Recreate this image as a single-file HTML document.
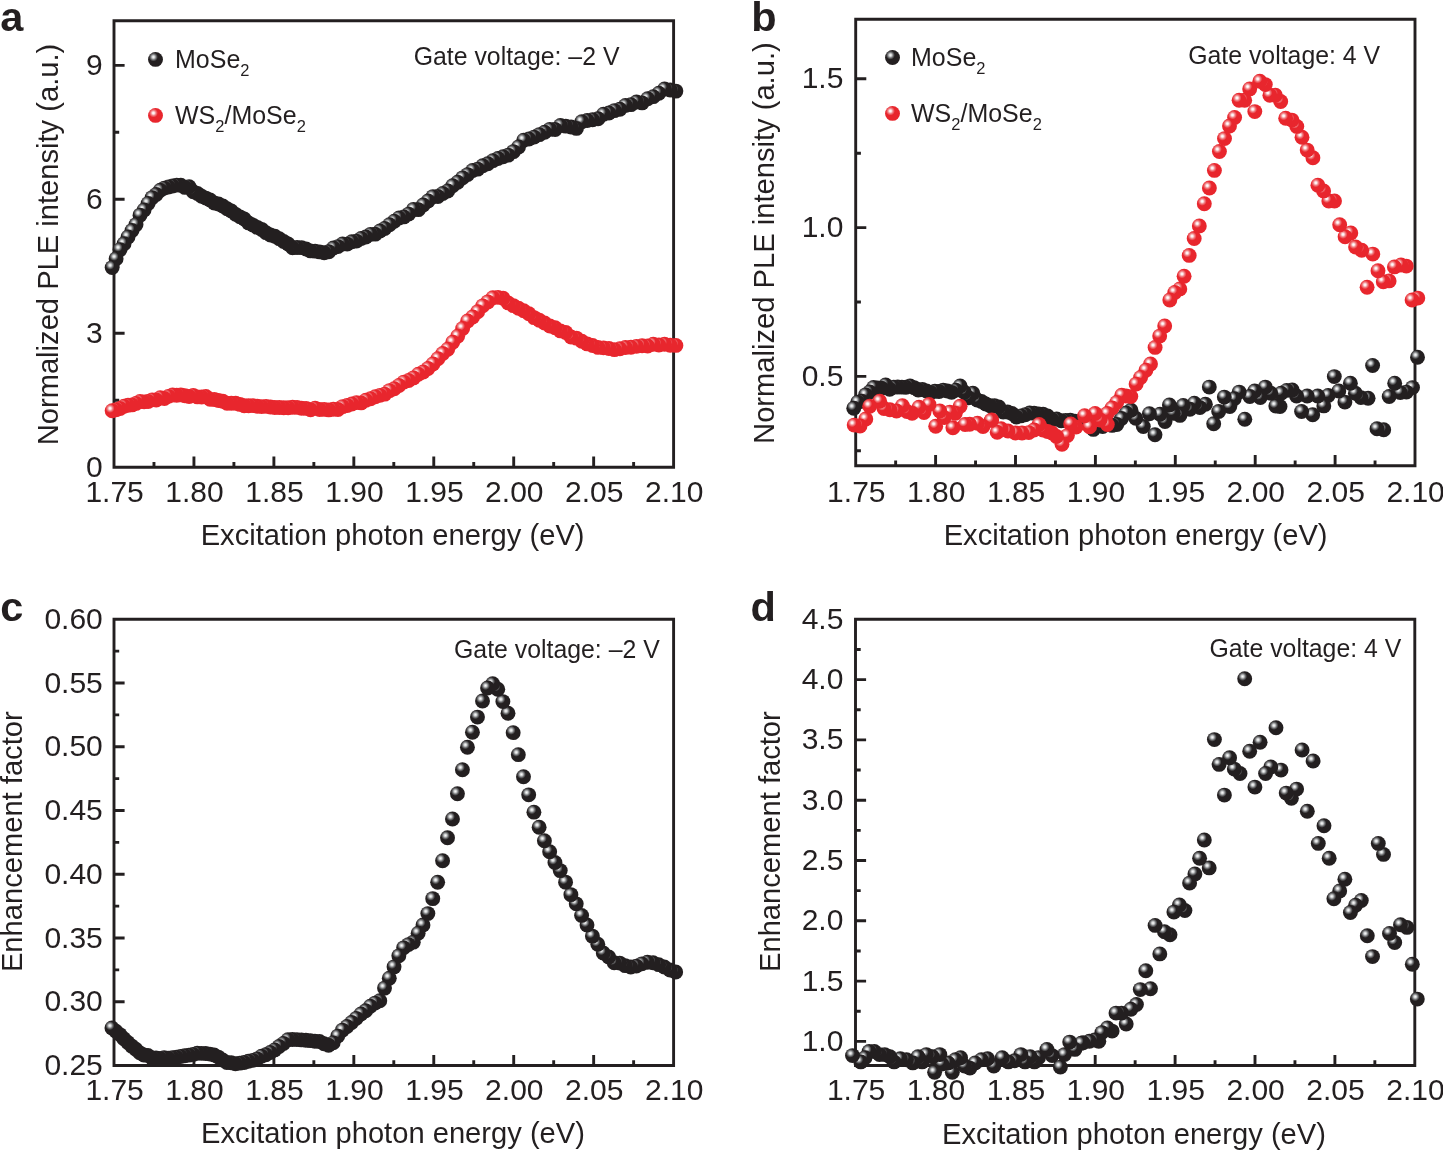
<!DOCTYPE html>
<html><head><meta charset="utf-8"><style>
html,body{margin:0;padding:0;background:#fff;overflow:hidden;}
svg{display:block;will-change:transform;}
text{font-family:"Liberation Sans", sans-serif;fill:#231f20;}
</style></head><body>
<svg width="1443" height="1150" viewBox="0 0 1443 1150">
<defs>
<radialGradient id="gk" cx="0.36" cy="0.34" r="0.30" fx="0.36" fy="0.34">
<stop offset="0" stop-color="#ffffff"/>
<stop offset="0.3" stop-color="#d0d2d3"/>
<stop offset="0.65" stop-color="#6d6e70"/>
<stop offset="1" stop-color="#231f20"/>
</radialGradient>
<radialGradient id="gr" cx="0.36" cy="0.34" r="0.30" fx="0.36" fy="0.34">
<stop offset="0" stop-color="#ffffff"/>
<stop offset="0.22" stop-color="#fdeeee"/>
<stop offset="0.6" stop-color="#f07c80"/>
<stop offset="1" stop-color="#e8262d"/>
</radialGradient>
</defs>
<rect width="1443" height="1150" fill="#fff"/>

<path d="M114.00,20.70H673.60V467.20H114.00Z" fill="none" stroke="#231f20" stroke-width="2.9"/>
<path d="M193.94,467.20v-10.6M273.89,467.20v-10.6M353.83,467.20v-10.6M433.77,467.20v-10.6M513.71,467.20v-10.6M593.66,467.20v-10.6M153.97,467.20v-5.2M233.91,467.20v-5.2M313.86,467.20v-5.2M393.80,467.20v-5.2M473.74,467.20v-5.2M553.69,467.20v-5.2M633.63,467.20v-5.2M114.00,333.25h10.6M114.00,199.30h10.6M114.00,65.35h10.6M114.00,400.23h5.2M114.00,266.27h5.2M114.00,132.32h5.2" stroke="#231f20" stroke-width="2.9" fill="none"/>
<text transform="translate(114.60,502.30)" font-size="30" text-anchor="middle">1.75</text>
<text transform="translate(194.54,502.30)" font-size="30" text-anchor="middle">1.80</text>
<text transform="translate(274.49,502.30)" font-size="30" text-anchor="middle">1.85</text>
<text transform="translate(354.43,502.30)" font-size="30" text-anchor="middle">1.90</text>
<text transform="translate(434.37,502.30)" font-size="30" text-anchor="middle">1.95</text>
<text transform="translate(514.31,502.30)" font-size="30" text-anchor="middle">2.00</text>
<text transform="translate(594.26,502.30)" font-size="30" text-anchor="middle">2.05</text>
<text transform="translate(674.20,502.30)" font-size="30" text-anchor="middle">2.10</text>
<text transform="translate(102.80,476.70)" font-size="30" text-anchor="end">0</text>
<text transform="translate(102.80,342.75)" font-size="30" text-anchor="end">3</text>
<text transform="translate(102.80,208.80)" font-size="30" text-anchor="end">6</text>
<text transform="translate(102.80,74.85)" font-size="30" text-anchor="end">9</text>
<path d="M855.70,19.30H1415.00V465.70H855.70Z" fill="none" stroke="#231f20" stroke-width="2.9"/>
<path d="M935.60,465.70v-10.6M1015.50,465.70v-10.6M1095.40,465.70v-10.6M1175.30,465.70v-10.6M1255.20,465.70v-10.6M1335.10,465.70v-10.6M895.65,465.70v-5.2M975.55,465.70v-5.2M1055.45,465.70v-5.2M1135.35,465.70v-5.2M1215.25,465.70v-5.2M1295.15,465.70v-5.2M1375.05,465.70v-5.2M855.70,376.42h10.6M855.70,227.62h10.6M855.70,78.82h10.6M855.70,450.82h5.2M855.70,302.02h5.2M855.70,153.22h5.2" stroke="#231f20" stroke-width="2.9" fill="none"/>
<text transform="translate(856.30,502.30)" font-size="30" text-anchor="middle">1.75</text>
<text transform="translate(936.20,502.30)" font-size="30" text-anchor="middle">1.80</text>
<text transform="translate(1016.10,502.30)" font-size="30" text-anchor="middle">1.85</text>
<text transform="translate(1096.00,502.30)" font-size="30" text-anchor="middle">1.90</text>
<text transform="translate(1175.90,502.30)" font-size="30" text-anchor="middle">1.95</text>
<text transform="translate(1255.80,502.30)" font-size="30" text-anchor="middle">2.00</text>
<text transform="translate(1335.70,502.30)" font-size="30" text-anchor="middle">2.05</text>
<text transform="translate(1415.60,502.30)" font-size="30" text-anchor="middle">2.10</text>
<text transform="translate(843.40,385.92)" font-size="30" text-anchor="end">0.5</text>
<text transform="translate(843.40,237.12)" font-size="30" text-anchor="end">1.0</text>
<text transform="translate(843.40,88.32)" font-size="30" text-anchor="end">1.5</text>
<path d="M114.00,619.30H673.60V1065.50H114.00Z" fill="none" stroke="#231f20" stroke-width="2.9"/>
<path d="M193.94,1065.50v-10.6M273.89,1065.50v-10.6M353.83,1065.50v-10.6M433.77,1065.50v-10.6M513.71,1065.50v-10.6M593.66,1065.50v-10.6M153.97,1065.50v-5.2M233.91,1065.50v-5.2M313.86,1065.50v-5.2M393.80,1065.50v-5.2M473.74,1065.50v-5.2M553.69,1065.50v-5.2M633.63,1065.50v-5.2M114.00,1001.76h10.6M114.00,938.01h10.6M114.00,874.27h10.6M114.00,810.53h10.6M114.00,746.79h10.6M114.00,683.04h10.6M114.00,1033.63h5.2M114.00,969.89h5.2M114.00,906.14h5.2M114.00,842.40h5.2M114.00,778.66h5.2M114.00,714.91h5.2M114.00,651.17h5.2" stroke="#231f20" stroke-width="2.9" fill="none"/>
<text transform="translate(114.60,1100.30)" font-size="30" text-anchor="middle">1.75</text>
<text transform="translate(194.54,1100.30)" font-size="30" text-anchor="middle">1.80</text>
<text transform="translate(274.49,1100.30)" font-size="30" text-anchor="middle">1.85</text>
<text transform="translate(354.43,1100.30)" font-size="30" text-anchor="middle">1.90</text>
<text transform="translate(434.37,1100.30)" font-size="30" text-anchor="middle">1.95</text>
<text transform="translate(514.31,1100.30)" font-size="30" text-anchor="middle">2.00</text>
<text transform="translate(594.26,1100.30)" font-size="30" text-anchor="middle">2.05</text>
<text transform="translate(674.20,1100.30)" font-size="30" text-anchor="middle">2.10</text>
<text transform="translate(102.80,1075.00)" font-size="30" text-anchor="end">0.25</text>
<text transform="translate(102.80,1011.26)" font-size="30" text-anchor="end">0.30</text>
<text transform="translate(102.80,947.51)" font-size="30" text-anchor="end">0.35</text>
<text transform="translate(102.80,883.77)" font-size="30" text-anchor="end">0.40</text>
<text transform="translate(102.80,820.03)" font-size="30" text-anchor="end">0.45</text>
<text transform="translate(102.80,756.29)" font-size="30" text-anchor="end">0.50</text>
<text transform="translate(102.80,692.54)" font-size="30" text-anchor="end">0.55</text>
<text transform="translate(102.80,628.80)" font-size="30" text-anchor="end">0.60</text>
<path d="M855.50,619.30H1414.80V1065.50H855.50Z" fill="none" stroke="#231f20" stroke-width="2.9"/>
<path d="M935.40,1065.50v-10.6M1015.30,1065.50v-10.6M1095.20,1065.50v-10.6M1175.10,1065.50v-10.6M1255.00,1065.50v-10.6M1334.90,1065.50v-10.6M895.45,1065.50v-5.2M975.35,1065.50v-5.2M1055.25,1065.50v-5.2M1135.15,1065.50v-5.2M1215.05,1065.50v-5.2M1294.95,1065.50v-5.2M1374.85,1065.50v-5.2M855.50,1041.38h10.6M855.50,981.08h10.6M855.50,920.79h10.6M855.50,860.49h10.6M855.50,800.19h10.6M855.50,739.89h10.6M855.50,679.60h10.6M855.50,1011.23h5.2M855.50,950.94h5.2M855.50,890.64h5.2M855.50,830.34h5.2M855.50,770.04h5.2M855.50,709.75h5.2M855.50,649.45h5.2" stroke="#231f20" stroke-width="2.9" fill="none"/>
<text transform="translate(856.10,1100.30)" font-size="30" text-anchor="middle">1.75</text>
<text transform="translate(936.00,1100.30)" font-size="30" text-anchor="middle">1.80</text>
<text transform="translate(1015.90,1100.30)" font-size="30" text-anchor="middle">1.85</text>
<text transform="translate(1095.80,1100.30)" font-size="30" text-anchor="middle">1.90</text>
<text transform="translate(1175.70,1100.30)" font-size="30" text-anchor="middle">1.95</text>
<text transform="translate(1255.60,1100.30)" font-size="30" text-anchor="middle">2.00</text>
<text transform="translate(1335.50,1100.30)" font-size="30" text-anchor="middle">2.05</text>
<text transform="translate(1415.40,1100.30)" font-size="30" text-anchor="middle">2.10</text>
<text transform="translate(843.40,1050.88)" font-size="30" text-anchor="end">1.0</text>
<text transform="translate(843.40,990.58)" font-size="30" text-anchor="end">1.5</text>
<text transform="translate(843.40,930.29)" font-size="30" text-anchor="end">2.0</text>
<text transform="translate(843.40,869.99)" font-size="30" text-anchor="end">2.5</text>
<text transform="translate(843.40,809.69)" font-size="30" text-anchor="end">3.0</text>
<text transform="translate(843.40,749.39)" font-size="30" text-anchor="end">3.5</text>
<text transform="translate(843.40,689.10)" font-size="30" text-anchor="end">4.0</text>
<text transform="translate(843.40,628.80)" font-size="30" text-anchor="end">4.5</text>
<text transform="translate(392.60,544.80) scale(1,1.01)" font-size="29.15" text-anchor="middle">Excitation photon energy (eV)</text>
<text transform="translate(1135.60,544.60) scale(1,1.01)" font-size="29.15" text-anchor="middle">Excitation photon energy (eV)</text>
<text transform="translate(393.00,1142.90) scale(1,1.01)" font-size="29.15" text-anchor="middle">Excitation photon energy (eV)</text>
<text transform="translate(1134.00,1143.60) scale(1,1.01)" font-size="29.15" text-anchor="middle">Excitation photon energy (eV)</text>
<text transform="translate(57.90,445.30) rotate(-90) scale(1,1.01)" font-size="29.15">Normalized PLE intensity (a.u.)</text>
<text transform="translate(773.70,443.90) rotate(-90) scale(1,1.01)" font-size="29.15">Normalized PLE intensity (a.u.)</text>
<text transform="translate(21.90,972.10) rotate(-90) scale(1,1.01)" font-size="29.15">Enhancement factor</text>
<text transform="translate(779.90,972.00) rotate(-90) scale(1,1.01)" font-size="29.15">Enhancement factor</text>
<text transform="translate(0.30,30.90)" font-size="41.5" font-weight="bold">a</text>
<text transform="translate(751.30,30.90)" font-size="41.5" font-weight="bold">b</text>
<text transform="translate(0.30,621.20)" font-size="41.5" font-weight="bold">c</text>
<text transform="translate(750.60,621.20)" font-size="41.5" font-weight="bold">d</text>
<text transform="translate(413.70,64.80) scale(1,1.055)" font-size="24.85">Gate voltage: –2 V</text>
<text transform="translate(1188.20,63.60) scale(1,1.055)" font-size="24.85">Gate voltage: 4 V</text>
<text transform="translate(454.00,657.90) scale(1,1.055)" font-size="24.85">Gate voltage: –2 V</text>
<text transform="translate(1209.40,657.10) scale(1,1.055)" font-size="24.85">Gate voltage: 4 V</text>
<text transform="translate(175.00,68.10) scale(1,1.055)" font-size="25">MoSe<tspan font-size="16.5" dy="7.6">2</tspan></text>
<text transform="translate(175.00,123.70) scale(1,1.055)" font-size="25">WS<tspan font-size="16.5" dy="7.6">2</tspan><tspan dy="-7.6">/MoSe</tspan><tspan font-size="16.5" dy="7.6">2</tspan></text>
<text transform="translate(911.00,66.00) scale(1,1.055)" font-size="25">MoSe<tspan font-size="16.5" dy="7.6">2</tspan></text>
<text transform="translate(911.00,122.30) scale(1,1.055)" font-size="25">WS<tspan font-size="16.5" dy="7.6">2</tspan><tspan dy="-7.6">/MoSe</tspan><tspan font-size="16.5" dy="7.6">2</tspan></text>
<circle cx="155.50" cy="59.40" r="7.45" fill="url(#gk)"/>
<circle cx="155.50" cy="115.40" r="7.45" fill="url(#gr)"/>
<circle cx="892.50" cy="57.50" r="7.45" fill="url(#gk)"/>
<circle cx="892.50" cy="113.40" r="7.45" fill="url(#gr)"/>
<circle cx="675.88" cy="91.11" r="7.45" fill="url(#gk)"/>
<circle cx="670.19" cy="90.03" r="7.45" fill="url(#gk)"/>
<circle cx="664.53" cy="89.03" r="7.45" fill="url(#gk)"/>
<circle cx="658.88" cy="93.20" r="7.45" fill="url(#gk)"/>
<circle cx="653.26" cy="96.67" r="7.45" fill="url(#gk)"/>
<circle cx="647.65" cy="98.70" r="7.45" fill="url(#gk)"/>
<circle cx="642.06" cy="102.86" r="7.45" fill="url(#gk)"/>
<circle cx="636.49" cy="102.02" r="7.45" fill="url(#gk)"/>
<circle cx="630.94" cy="104.67" r="7.45" fill="url(#gk)"/>
<circle cx="625.41" cy="105.41" r="7.45" fill="url(#gk)"/>
<circle cx="619.90" cy="109.22" r="7.45" fill="url(#gk)"/>
<circle cx="614.40" cy="110.61" r="7.45" fill="url(#gk)"/>
<circle cx="608.93" cy="113.05" r="7.45" fill="url(#gk)"/>
<circle cx="603.47" cy="114.24" r="7.45" fill="url(#gk)"/>
<circle cx="598.03" cy="118.79" r="7.45" fill="url(#gk)"/>
<circle cx="592.60" cy="119.68" r="7.45" fill="url(#gk)"/>
<circle cx="587.20" cy="120.55" r="7.45" fill="url(#gk)"/>
<circle cx="581.81" cy="121.73" r="7.45" fill="url(#gk)"/>
<circle cx="576.44" cy="128.40" r="7.45" fill="url(#gk)"/>
<circle cx="571.09" cy="126.96" r="7.45" fill="url(#gk)"/>
<circle cx="565.76" cy="126.16" r="7.45" fill="url(#gk)"/>
<circle cx="560.44" cy="125.49" r="7.45" fill="url(#gk)"/>
<circle cx="555.14" cy="129.43" r="7.45" fill="url(#gk)"/>
<circle cx="549.86" cy="129.36" r="7.45" fill="url(#gk)"/>
<circle cx="544.59" cy="132.24" r="7.45" fill="url(#gk)"/>
<circle cx="539.34" cy="134.64" r="7.45" fill="url(#gk)"/>
<circle cx="534.11" cy="137.10" r="7.45" fill="url(#gk)"/>
<circle cx="528.90" cy="138.98" r="7.45" fill="url(#gk)"/>
<circle cx="523.70" cy="140.17" r="7.45" fill="url(#gk)"/>
<circle cx="518.52" cy="146.90" r="7.45" fill="url(#gk)"/>
<circle cx="513.36" cy="151.63" r="7.45" fill="url(#gk)"/>
<circle cx="508.21" cy="155.11" r="7.45" fill="url(#gk)"/>
<circle cx="503.08" cy="156.77" r="7.45" fill="url(#gk)"/>
<circle cx="497.97" cy="158.45" r="7.45" fill="url(#gk)"/>
<circle cx="492.87" cy="160.67" r="7.45" fill="url(#gk)"/>
<circle cx="487.79" cy="163.79" r="7.45" fill="url(#gk)"/>
<circle cx="482.72" cy="165.82" r="7.45" fill="url(#gk)"/>
<circle cx="477.68" cy="169.12" r="7.45" fill="url(#gk)"/>
<circle cx="472.64" cy="170.50" r="7.45" fill="url(#gk)"/>
<circle cx="467.63" cy="174.59" r="7.45" fill="url(#gk)"/>
<circle cx="462.63" cy="177.84" r="7.45" fill="url(#gk)"/>
<circle cx="457.64" cy="182.23" r="7.45" fill="url(#gk)"/>
<circle cx="452.67" cy="185.74" r="7.45" fill="url(#gk)"/>
<circle cx="447.72" cy="190.97" r="7.45" fill="url(#gk)"/>
<circle cx="442.78" cy="193.49" r="7.45" fill="url(#gk)"/>
<circle cx="437.86" cy="196.55" r="7.45" fill="url(#gk)"/>
<circle cx="432.95" cy="196.61" r="7.45" fill="url(#gk)"/>
<circle cx="428.06" cy="201.00" r="7.45" fill="url(#gk)"/>
<circle cx="423.19" cy="205.07" r="7.45" fill="url(#gk)"/>
<circle cx="418.32" cy="209.65" r="7.45" fill="url(#gk)"/>
<circle cx="413.48" cy="209.37" r="7.45" fill="url(#gk)"/>
<circle cx="408.65" cy="214.10" r="7.45" fill="url(#gk)"/>
<circle cx="403.83" cy="216.91" r="7.45" fill="url(#gk)"/>
<circle cx="399.03" cy="217.98" r="7.45" fill="url(#gk)"/>
<circle cx="394.25" cy="221.19" r="7.45" fill="url(#gk)"/>
<circle cx="389.48" cy="224.69" r="7.45" fill="url(#gk)"/>
<circle cx="384.72" cy="228.46" r="7.45" fill="url(#gk)"/>
<circle cx="379.98" cy="231.00" r="7.45" fill="url(#gk)"/>
<circle cx="375.25" cy="234.16" r="7.45" fill="url(#gk)"/>
<circle cx="370.54" cy="234.33" r="7.45" fill="url(#gk)"/>
<circle cx="365.84" cy="237.07" r="7.45" fill="url(#gk)"/>
<circle cx="361.16" cy="238.44" r="7.45" fill="url(#gk)"/>
<circle cx="356.49" cy="241.08" r="7.45" fill="url(#gk)"/>
<circle cx="351.84" cy="241.82" r="7.45" fill="url(#gk)"/>
<circle cx="347.20" cy="244.08" r="7.45" fill="url(#gk)"/>
<circle cx="342.57" cy="243.94" r="7.45" fill="url(#gk)"/>
<circle cx="337.96" cy="246.58" r="7.45" fill="url(#gk)"/>
<circle cx="333.36" cy="248.02" r="7.45" fill="url(#gk)"/>
<circle cx="328.78" cy="251.73" r="7.45" fill="url(#gk)"/>
<circle cx="324.21" cy="252.76" r="7.45" fill="url(#gk)"/>
<circle cx="319.65" cy="251.88" r="7.45" fill="url(#gk)"/>
<circle cx="315.11" cy="251.17" r="7.45" fill="url(#gk)"/>
<circle cx="310.58" cy="250.90" r="7.45" fill="url(#gk)"/>
<circle cx="306.07" cy="248.94" r="7.45" fill="url(#gk)"/>
<circle cx="301.57" cy="247.67" r="7.45" fill="url(#gk)"/>
<circle cx="297.08" cy="247.45" r="7.45" fill="url(#gk)"/>
<circle cx="292.60" cy="247.68" r="7.45" fill="url(#gk)"/>
<circle cx="288.14" cy="244.06" r="7.45" fill="url(#gk)"/>
<circle cx="283.69" cy="241.48" r="7.45" fill="url(#gk)"/>
<circle cx="279.26" cy="238.66" r="7.45" fill="url(#gk)"/>
<circle cx="274.84" cy="236.21" r="7.45" fill="url(#gk)"/>
<circle cx="270.43" cy="235.05" r="7.45" fill="url(#gk)"/>
<circle cx="266.04" cy="232.67" r="7.45" fill="url(#gk)"/>
<circle cx="261.66" cy="229.36" r="7.45" fill="url(#gk)"/>
<circle cx="257.29" cy="227.37" r="7.45" fill="url(#gk)"/>
<circle cx="252.93" cy="225.04" r="7.45" fill="url(#gk)"/>
<circle cx="248.59" cy="222.90" r="7.45" fill="url(#gk)"/>
<circle cx="244.26" cy="218.91" r="7.45" fill="url(#gk)"/>
<circle cx="239.94" cy="216.83" r="7.45" fill="url(#gk)"/>
<circle cx="235.64" cy="214.35" r="7.45" fill="url(#gk)"/>
<circle cx="231.34" cy="210.92" r="7.45" fill="url(#gk)"/>
<circle cx="227.07" cy="208.73" r="7.45" fill="url(#gk)"/>
<circle cx="222.80" cy="206.03" r="7.45" fill="url(#gk)"/>
<circle cx="218.54" cy="204.07" r="7.45" fill="url(#gk)"/>
<circle cx="214.30" cy="202.97" r="7.45" fill="url(#gk)"/>
<circle cx="210.07" cy="199.93" r="7.45" fill="url(#gk)"/>
<circle cx="205.86" cy="198.10" r="7.45" fill="url(#gk)"/>
<circle cx="201.65" cy="196.32" r="7.45" fill="url(#gk)"/>
<circle cx="197.46" cy="193.57" r="7.45" fill="url(#gk)"/>
<circle cx="193.28" cy="191.80" r="7.45" fill="url(#gk)"/>
<circle cx="189.11" cy="186.71" r="7.45" fill="url(#gk)"/>
<circle cx="184.95" cy="187.37" r="7.45" fill="url(#gk)"/>
<circle cx="180.81" cy="185.25" r="7.45" fill="url(#gk)"/>
<circle cx="176.68" cy="185.09" r="7.45" fill="url(#gk)"/>
<circle cx="172.56" cy="186.00" r="7.45" fill="url(#gk)"/>
<circle cx="168.45" cy="186.96" r="7.45" fill="url(#gk)"/>
<circle cx="164.35" cy="188.10" r="7.45" fill="url(#gk)"/>
<circle cx="160.27" cy="190.27" r="7.45" fill="url(#gk)"/>
<circle cx="156.20" cy="194.51" r="7.45" fill="url(#gk)"/>
<circle cx="152.13" cy="197.61" r="7.45" fill="url(#gk)"/>
<circle cx="148.08" cy="203.43" r="7.45" fill="url(#gk)"/>
<circle cx="144.05" cy="210.02" r="7.45" fill="url(#gk)"/>
<circle cx="140.02" cy="215.13" r="7.45" fill="url(#gk)"/>
<circle cx="136.00" cy="224.62" r="7.45" fill="url(#gk)"/>
<circle cx="132.00" cy="230.55" r="7.45" fill="url(#gk)"/>
<circle cx="128.01" cy="236.99" r="7.45" fill="url(#gk)"/>
<circle cx="124.03" cy="243.80" r="7.45" fill="url(#gk)"/>
<circle cx="120.06" cy="249.61" r="7.45" fill="url(#gk)"/>
<circle cx="116.10" cy="258.80" r="7.45" fill="url(#gk)"/>
<circle cx="112.15" cy="267.59" r="7.45" fill="url(#gk)"/>
<circle cx="675.88" cy="345.42" r="7.45" fill="url(#gr)"/>
<circle cx="670.19" cy="345.28" r="7.45" fill="url(#gr)"/>
<circle cx="664.53" cy="344.32" r="7.45" fill="url(#gr)"/>
<circle cx="658.88" cy="344.95" r="7.45" fill="url(#gr)"/>
<circle cx="653.26" cy="344.29" r="7.45" fill="url(#gr)"/>
<circle cx="647.65" cy="346.02" r="7.45" fill="url(#gr)"/>
<circle cx="642.06" cy="345.74" r="7.45" fill="url(#gr)"/>
<circle cx="636.49" cy="346.35" r="7.45" fill="url(#gr)"/>
<circle cx="630.94" cy="347.31" r="7.45" fill="url(#gr)"/>
<circle cx="625.41" cy="347.54" r="7.45" fill="url(#gr)"/>
<circle cx="619.90" cy="348.72" r="7.45" fill="url(#gr)"/>
<circle cx="614.40" cy="349.61" r="7.45" fill="url(#gr)"/>
<circle cx="608.93" cy="348.43" r="7.45" fill="url(#gr)"/>
<circle cx="603.47" cy="347.85" r="7.45" fill="url(#gr)"/>
<circle cx="598.03" cy="347.40" r="7.45" fill="url(#gr)"/>
<circle cx="592.60" cy="345.54" r="7.45" fill="url(#gr)"/>
<circle cx="587.20" cy="343.88" r="7.45" fill="url(#gr)"/>
<circle cx="581.81" cy="341.26" r="7.45" fill="url(#gr)"/>
<circle cx="576.44" cy="338.13" r="7.45" fill="url(#gr)"/>
<circle cx="571.09" cy="336.98" r="7.45" fill="url(#gr)"/>
<circle cx="565.76" cy="332.47" r="7.45" fill="url(#gr)"/>
<circle cx="560.44" cy="330.92" r="7.45" fill="url(#gr)"/>
<circle cx="555.14" cy="327.68" r="7.45" fill="url(#gr)"/>
<circle cx="549.86" cy="326.04" r="7.45" fill="url(#gr)"/>
<circle cx="544.59" cy="323.01" r="7.45" fill="url(#gr)"/>
<circle cx="539.34" cy="320.18" r="7.45" fill="url(#gr)"/>
<circle cx="534.11" cy="317.61" r="7.45" fill="url(#gr)"/>
<circle cx="528.90" cy="313.80" r="7.45" fill="url(#gr)"/>
<circle cx="523.70" cy="310.77" r="7.45" fill="url(#gr)"/>
<circle cx="518.52" cy="308.27" r="7.45" fill="url(#gr)"/>
<circle cx="513.36" cy="305.62" r="7.45" fill="url(#gr)"/>
<circle cx="508.21" cy="302.91" r="7.45" fill="url(#gr)"/>
<circle cx="503.08" cy="298.28" r="7.45" fill="url(#gr)"/>
<circle cx="497.97" cy="297.34" r="7.45" fill="url(#gr)"/>
<circle cx="492.87" cy="297.82" r="7.45" fill="url(#gr)"/>
<circle cx="487.79" cy="301.89" r="7.45" fill="url(#gr)"/>
<circle cx="482.72" cy="305.84" r="7.45" fill="url(#gr)"/>
<circle cx="477.68" cy="311.80" r="7.45" fill="url(#gr)"/>
<circle cx="472.64" cy="316.99" r="7.45" fill="url(#gr)"/>
<circle cx="467.63" cy="321.02" r="7.45" fill="url(#gr)"/>
<circle cx="462.63" cy="328.48" r="7.45" fill="url(#gr)"/>
<circle cx="457.64" cy="336.24" r="7.45" fill="url(#gr)"/>
<circle cx="452.67" cy="342.29" r="7.45" fill="url(#gr)"/>
<circle cx="447.72" cy="349.20" r="7.45" fill="url(#gr)"/>
<circle cx="442.78" cy="353.54" r="7.45" fill="url(#gr)"/>
<circle cx="437.86" cy="358.67" r="7.45" fill="url(#gr)"/>
<circle cx="432.95" cy="363.95" r="7.45" fill="url(#gr)"/>
<circle cx="428.06" cy="368.44" r="7.45" fill="url(#gr)"/>
<circle cx="423.19" cy="371.97" r="7.45" fill="url(#gr)"/>
<circle cx="418.32" cy="374.26" r="7.45" fill="url(#gr)"/>
<circle cx="413.48" cy="377.87" r="7.45" fill="url(#gr)"/>
<circle cx="408.65" cy="380.49" r="7.45" fill="url(#gr)"/>
<circle cx="403.83" cy="382.08" r="7.45" fill="url(#gr)"/>
<circle cx="399.03" cy="385.40" r="7.45" fill="url(#gr)"/>
<circle cx="394.25" cy="388.76" r="7.45" fill="url(#gr)"/>
<circle cx="389.48" cy="390.63" r="7.45" fill="url(#gr)"/>
<circle cx="384.72" cy="394.15" r="7.45" fill="url(#gr)"/>
<circle cx="379.98" cy="395.35" r="7.45" fill="url(#gr)"/>
<circle cx="375.25" cy="396.74" r="7.45" fill="url(#gr)"/>
<circle cx="370.54" cy="398.70" r="7.45" fill="url(#gr)"/>
<circle cx="365.84" cy="400.32" r="7.45" fill="url(#gr)"/>
<circle cx="361.16" cy="402.91" r="7.45" fill="url(#gr)"/>
<circle cx="356.49" cy="402.60" r="7.45" fill="url(#gr)"/>
<circle cx="351.84" cy="403.96" r="7.45" fill="url(#gr)"/>
<circle cx="347.20" cy="405.52" r="7.45" fill="url(#gr)"/>
<circle cx="342.57" cy="406.63" r="7.45" fill="url(#gr)"/>
<circle cx="337.96" cy="409.46" r="7.45" fill="url(#gr)"/>
<circle cx="333.36" cy="409.20" r="7.45" fill="url(#gr)"/>
<circle cx="328.78" cy="409.89" r="7.45" fill="url(#gr)"/>
<circle cx="324.21" cy="409.37" r="7.45" fill="url(#gr)"/>
<circle cx="319.65" cy="409.49" r="7.45" fill="url(#gr)"/>
<circle cx="315.11" cy="408.22" r="7.45" fill="url(#gr)"/>
<circle cx="310.58" cy="409.74" r="7.45" fill="url(#gr)"/>
<circle cx="306.07" cy="408.36" r="7.45" fill="url(#gr)"/>
<circle cx="301.57" cy="408.21" r="7.45" fill="url(#gr)"/>
<circle cx="297.08" cy="407.39" r="7.45" fill="url(#gr)"/>
<circle cx="292.60" cy="407.27" r="7.45" fill="url(#gr)"/>
<circle cx="288.14" cy="407.80" r="7.45" fill="url(#gr)"/>
<circle cx="283.69" cy="407.81" r="7.45" fill="url(#gr)"/>
<circle cx="279.26" cy="407.45" r="7.45" fill="url(#gr)"/>
<circle cx="274.84" cy="407.49" r="7.45" fill="url(#gr)"/>
<circle cx="270.43" cy="406.97" r="7.45" fill="url(#gr)"/>
<circle cx="266.04" cy="406.34" r="7.45" fill="url(#gr)"/>
<circle cx="261.66" cy="406.60" r="7.45" fill="url(#gr)"/>
<circle cx="257.29" cy="406.23" r="7.45" fill="url(#gr)"/>
<circle cx="252.93" cy="405.59" r="7.45" fill="url(#gr)"/>
<circle cx="248.59" cy="405.79" r="7.45" fill="url(#gr)"/>
<circle cx="244.26" cy="405.69" r="7.45" fill="url(#gr)"/>
<circle cx="239.94" cy="404.36" r="7.45" fill="url(#gr)"/>
<circle cx="235.64" cy="403.31" r="7.45" fill="url(#gr)"/>
<circle cx="231.34" cy="403.25" r="7.45" fill="url(#gr)"/>
<circle cx="227.07" cy="403.27" r="7.45" fill="url(#gr)"/>
<circle cx="222.80" cy="401.30" r="7.45" fill="url(#gr)"/>
<circle cx="218.54" cy="400.47" r="7.45" fill="url(#gr)"/>
<circle cx="214.30" cy="399.48" r="7.45" fill="url(#gr)"/>
<circle cx="210.07" cy="399.35" r="7.45" fill="url(#gr)"/>
<circle cx="205.86" cy="396.56" r="7.45" fill="url(#gr)"/>
<circle cx="201.65" cy="396.94" r="7.45" fill="url(#gr)"/>
<circle cx="197.46" cy="396.88" r="7.45" fill="url(#gr)"/>
<circle cx="193.28" cy="395.43" r="7.45" fill="url(#gr)"/>
<circle cx="189.11" cy="396.57" r="7.45" fill="url(#gr)"/>
<circle cx="184.95" cy="395.75" r="7.45" fill="url(#gr)"/>
<circle cx="180.81" cy="394.86" r="7.45" fill="url(#gr)"/>
<circle cx="176.68" cy="395.29" r="7.45" fill="url(#gr)"/>
<circle cx="172.56" cy="395.01" r="7.45" fill="url(#gr)"/>
<circle cx="168.45" cy="396.35" r="7.45" fill="url(#gr)"/>
<circle cx="164.35" cy="398.54" r="7.45" fill="url(#gr)"/>
<circle cx="160.27" cy="397.66" r="7.45" fill="url(#gr)"/>
<circle cx="156.20" cy="400.06" r="7.45" fill="url(#gr)"/>
<circle cx="152.13" cy="399.83" r="7.45" fill="url(#gr)"/>
<circle cx="148.08" cy="401.45" r="7.45" fill="url(#gr)"/>
<circle cx="144.05" cy="401.85" r="7.45" fill="url(#gr)"/>
<circle cx="140.02" cy="401.44" r="7.45" fill="url(#gr)"/>
<circle cx="136.00" cy="403.41" r="7.45" fill="url(#gr)"/>
<circle cx="132.00" cy="404.89" r="7.45" fill="url(#gr)"/>
<circle cx="128.01" cy="405.23" r="7.45" fill="url(#gr)"/>
<circle cx="124.03" cy="406.26" r="7.45" fill="url(#gr)"/>
<circle cx="120.06" cy="408.55" r="7.45" fill="url(#gr)"/>
<circle cx="116.10" cy="409.71" r="7.45" fill="url(#gr)"/>
<circle cx="112.15" cy="410.78" r="7.45" fill="url(#gr)"/>
<circle cx="1417.50" cy="357.20" r="7.45" fill="url(#gk)"/>
<circle cx="1412.50" cy="387.60" r="7.45" fill="url(#gk)"/>
<circle cx="1406.40" cy="392.10" r="7.45" fill="url(#gk)"/>
<circle cx="1400.30" cy="392.60" r="7.45" fill="url(#gk)"/>
<circle cx="1394.70" cy="383.20" r="7.45" fill="url(#gk)"/>
<circle cx="1389.20" cy="396.50" r="7.45" fill="url(#gk)"/>
<circle cx="1383.70" cy="429.80" r="7.45" fill="url(#gk)"/>
<circle cx="1377.00" cy="428.70" r="7.45" fill="url(#gk)"/>
<circle cx="1372.60" cy="365.50" r="7.45" fill="url(#gk)"/>
<circle cx="1368.10" cy="398.20" r="7.45" fill="url(#gk)"/>
<circle cx="1360.90" cy="397.60" r="7.45" fill="url(#gk)"/>
<circle cx="1355.40" cy="393.20" r="7.45" fill="url(#gk)"/>
<circle cx="1350.40" cy="383.20" r="7.45" fill="url(#gk)"/>
<circle cx="1344.90" cy="402.10" r="7.45" fill="url(#gk)"/>
<circle cx="1338.80" cy="391.00" r="7.45" fill="url(#gk)"/>
<circle cx="1334.30" cy="376.60" r="7.45" fill="url(#gk)"/>
<circle cx="1328.20" cy="395.40" r="7.45" fill="url(#gk)"/>
<circle cx="1323.80" cy="405.90" r="7.45" fill="url(#gk)"/>
<circle cx="1317.70" cy="396.00" r="7.45" fill="url(#gk)"/>
<circle cx="1312.70" cy="414.80" r="7.45" fill="url(#gk)"/>
<circle cx="1307.20" cy="396.00" r="7.45" fill="url(#gk)"/>
<circle cx="1301.60" cy="411.50" r="7.45" fill="url(#gk)"/>
<circle cx="1296.60" cy="396.00" r="7.45" fill="url(#gk)"/>
<circle cx="1292.20" cy="389.90" r="7.45" fill="url(#gk)"/>
<circle cx="1286.70" cy="390.40" r="7.45" fill="url(#gk)"/>
<circle cx="1281.10" cy="393.20" r="7.45" fill="url(#gk)"/>
<circle cx="1280.00" cy="406.50" r="7.45" fill="url(#gk)"/>
<circle cx="1275.80" cy="406.00" r="7.45" fill="url(#gk)"/>
<circle cx="1270.80" cy="393.20" r="7.45" fill="url(#gk)"/>
<circle cx="1265.30" cy="387.10" r="7.45" fill="url(#gk)"/>
<circle cx="1260.30" cy="397.60" r="7.45" fill="url(#gk)"/>
<circle cx="1254.70" cy="391.00" r="7.45" fill="url(#gk)"/>
<circle cx="1249.80" cy="396.50" r="7.45" fill="url(#gk)"/>
<circle cx="1244.80" cy="419.30" r="7.45" fill="url(#gk)"/>
<circle cx="1239.20" cy="392.10" r="7.45" fill="url(#gk)"/>
<circle cx="1234.20" cy="398.80" r="7.45" fill="url(#gk)"/>
<circle cx="1229.80" cy="406.50" r="7.45" fill="url(#gk)"/>
<circle cx="1224.30" cy="397.10" r="7.45" fill="url(#gk)"/>
<circle cx="1218.70" cy="411.50" r="7.45" fill="url(#gk)"/>
<circle cx="1213.70" cy="423.70" r="7.45" fill="url(#gk)"/>
<circle cx="1209.30" cy="387.10" r="7.45" fill="url(#gk)"/>
<circle cx="1205.40" cy="404.30" r="7.45" fill="url(#gk)"/>
<circle cx="1199.90" cy="407.60" r="7.45" fill="url(#gk)"/>
<circle cx="1194.30" cy="403.20" r="7.45" fill="url(#gk)"/>
<circle cx="1189.90" cy="409.30" r="7.45" fill="url(#gk)"/>
<circle cx="1183.20" cy="405.40" r="7.45" fill="url(#gk)"/>
<circle cx="1179.90" cy="415.40" r="7.45" fill="url(#gk)"/>
<circle cx="1173.30" cy="413.20" r="7.45" fill="url(#gk)"/>
<circle cx="1169.40" cy="404.90" r="7.45" fill="url(#gk)"/>
<circle cx="1165.00" cy="421.50" r="7.45" fill="url(#gk)"/>
<circle cx="1160.00" cy="414.30" r="7.45" fill="url(#gk)"/>
<circle cx="1155.00" cy="434.80" r="7.45" fill="url(#gk)"/>
<circle cx="1149.40" cy="413.70" r="7.45" fill="url(#gk)"/>
<circle cx="1143.30" cy="426.50" r="7.45" fill="url(#gk)"/>
<circle cx="1135.75" cy="418.24" r="7.45" fill="url(#gk)"/>
<circle cx="1130.98" cy="410.27" r="7.45" fill="url(#gk)"/>
<circle cx="1126.22" cy="413.03" r="7.45" fill="url(#gk)"/>
<circle cx="1121.48" cy="418.54" r="7.45" fill="url(#gk)"/>
<circle cx="1116.76" cy="424.50" r="7.45" fill="url(#gk)"/>
<circle cx="1112.05" cy="425.38" r="7.45" fill="url(#gk)"/>
<circle cx="1107.35" cy="423.60" r="7.45" fill="url(#gk)"/>
<circle cx="1102.67" cy="426.48" r="7.45" fill="url(#gk)"/>
<circle cx="1098.01" cy="425.15" r="7.45" fill="url(#gk)"/>
<circle cx="1093.35" cy="429.42" r="7.45" fill="url(#gk)"/>
<circle cx="1088.71" cy="424.23" r="7.45" fill="url(#gk)"/>
<circle cx="1084.09" cy="422.45" r="7.45" fill="url(#gk)"/>
<circle cx="1079.48" cy="422.10" r="7.45" fill="url(#gk)"/>
<circle cx="1074.88" cy="421.14" r="7.45" fill="url(#gk)"/>
<circle cx="1070.30" cy="420.19" r="7.45" fill="url(#gk)"/>
<circle cx="1065.73" cy="420.45" r="7.45" fill="url(#gk)"/>
<circle cx="1061.18" cy="420.77" r="7.45" fill="url(#gk)"/>
<circle cx="1056.64" cy="419.01" r="7.45" fill="url(#gk)"/>
<circle cx="1052.11" cy="419.75" r="7.45" fill="url(#gk)"/>
<circle cx="1047.60" cy="416.05" r="7.45" fill="url(#gk)"/>
<circle cx="1043.10" cy="414.16" r="7.45" fill="url(#gk)"/>
<circle cx="1038.61" cy="413.95" r="7.45" fill="url(#gk)"/>
<circle cx="1034.14" cy="413.20" r="7.45" fill="url(#gk)"/>
<circle cx="1029.68" cy="413.07" r="7.45" fill="url(#gk)"/>
<circle cx="1025.23" cy="414.73" r="7.45" fill="url(#gk)"/>
<circle cx="1020.80" cy="415.87" r="7.45" fill="url(#gk)"/>
<circle cx="1016.38" cy="417.08" r="7.45" fill="url(#gk)"/>
<circle cx="1011.98" cy="413.57" r="7.45" fill="url(#gk)"/>
<circle cx="1007.58" cy="412.02" r="7.45" fill="url(#gk)"/>
<circle cx="1003.20" cy="412.06" r="7.45" fill="url(#gk)"/>
<circle cx="998.84" cy="407.01" r="7.45" fill="url(#gk)"/>
<circle cx="994.48" cy="405.68" r="7.45" fill="url(#gk)"/>
<circle cx="990.14" cy="405.80" r="7.45" fill="url(#gk)"/>
<circle cx="985.81" cy="404.01" r="7.45" fill="url(#gk)"/>
<circle cx="981.50" cy="401.48" r="7.45" fill="url(#gk)"/>
<circle cx="977.19" cy="400.02" r="7.45" fill="url(#gk)"/>
<circle cx="972.90" cy="393.31" r="7.45" fill="url(#gk)"/>
<circle cx="968.63" cy="397.81" r="7.45" fill="url(#gk)"/>
<circle cx="964.36" cy="392.26" r="7.45" fill="url(#gk)"/>
<circle cx="960.11" cy="386.02" r="7.45" fill="url(#gk)"/>
<circle cx="955.87" cy="390.16" r="7.45" fill="url(#gk)"/>
<circle cx="951.64" cy="392.33" r="7.45" fill="url(#gk)"/>
<circle cx="947.42" cy="391.04" r="7.45" fill="url(#gk)"/>
<circle cx="943.22" cy="390.12" r="7.45" fill="url(#gk)"/>
<circle cx="939.03" cy="391.45" r="7.45" fill="url(#gk)"/>
<circle cx="934.85" cy="391.25" r="7.45" fill="url(#gk)"/>
<circle cx="930.68" cy="392.53" r="7.45" fill="url(#gk)"/>
<circle cx="926.53" cy="390.98" r="7.45" fill="url(#gk)"/>
<circle cx="922.39" cy="389.56" r="7.45" fill="url(#gk)"/>
<circle cx="918.26" cy="390.06" r="7.45" fill="url(#gk)"/>
<circle cx="914.14" cy="387.62" r="7.45" fill="url(#gk)"/>
<circle cx="910.03" cy="385.95" r="7.45" fill="url(#gk)"/>
<circle cx="905.94" cy="387.19" r="7.45" fill="url(#gk)"/>
<circle cx="901.85" cy="387.12" r="7.45" fill="url(#gk)"/>
<circle cx="897.78" cy="386.98" r="7.45" fill="url(#gk)"/>
<circle cx="893.72" cy="387.14" r="7.45" fill="url(#gk)"/>
<circle cx="889.67" cy="389.25" r="7.45" fill="url(#gk)"/>
<circle cx="885.63" cy="384.93" r="7.45" fill="url(#gk)"/>
<circle cx="881.61" cy="388.28" r="7.45" fill="url(#gk)"/>
<circle cx="877.60" cy="388.00" r="7.45" fill="url(#gk)"/>
<circle cx="873.59" cy="387.48" r="7.45" fill="url(#gk)"/>
<circle cx="869.60" cy="391.98" r="7.45" fill="url(#gk)"/>
<circle cx="865.62" cy="394.85" r="7.45" fill="url(#gk)"/>
<circle cx="861.65" cy="401.28" r="7.45" fill="url(#gk)"/>
<circle cx="857.70" cy="402.18" r="7.45" fill="url(#gk)"/>
<circle cx="853.75" cy="408.25" r="7.45" fill="url(#gk)"/>
<circle cx="1417.80" cy="298.10" r="7.45" fill="url(#gr)"/>
<circle cx="1412.10" cy="300.00" r="7.45" fill="url(#gr)"/>
<circle cx="1406.30" cy="266.10" r="7.45" fill="url(#gr)"/>
<circle cx="1401.00" cy="265.00" r="7.45" fill="url(#gr)"/>
<circle cx="1394.40" cy="266.90" r="7.45" fill="url(#gr)"/>
<circle cx="1389.10" cy="280.90" r="7.45" fill="url(#gr)"/>
<circle cx="1383.30" cy="281.80" r="7.45" fill="url(#gr)"/>
<circle cx="1378.00" cy="270.70" r="7.45" fill="url(#gr)"/>
<circle cx="1372.80" cy="254.10" r="7.45" fill="url(#gr)"/>
<circle cx="1367.10" cy="287.20" r="7.45" fill="url(#gr)"/>
<circle cx="1361.70" cy="250.20" r="7.45" fill="url(#gr)"/>
<circle cx="1355.60" cy="247.00" r="7.45" fill="url(#gr)"/>
<circle cx="1350.80" cy="233.00" r="7.45" fill="url(#gr)"/>
<circle cx="1345.10" cy="236.80" r="7.45" fill="url(#gr)"/>
<circle cx="1339.70" cy="224.80" r="7.45" fill="url(#gr)"/>
<circle cx="1334.50" cy="201.00" r="7.45" fill="url(#gr)"/>
<circle cx="1328.80" cy="201.00" r="7.45" fill="url(#gr)"/>
<circle cx="1323.60" cy="190.90" r="7.45" fill="url(#gr)"/>
<circle cx="1317.90" cy="185.20" r="7.45" fill="url(#gr)"/>
<circle cx="1312.90" cy="157.80" r="7.45" fill="url(#gr)"/>
<circle cx="1307.20" cy="150.10" r="7.45" fill="url(#gr)"/>
<circle cx="1302.00" cy="137.30" r="7.45" fill="url(#gr)"/>
<circle cx="1296.80" cy="126.40" r="7.45" fill="url(#gr)"/>
<circle cx="1291.90" cy="120.10" r="7.45" fill="url(#gr)"/>
<circle cx="1285.70" cy="118.20" r="7.45" fill="url(#gr)"/>
<circle cx="1280.70" cy="101.50" r="7.45" fill="url(#gr)"/>
<circle cx="1275.40" cy="95.20" r="7.45" fill="url(#gr)"/>
<circle cx="1269.90" cy="95.20" r="7.45" fill="url(#gr)"/>
<circle cx="1265.30" cy="84.60" r="7.45" fill="url(#gr)"/>
<circle cx="1259.80" cy="81.30" r="7.45" fill="url(#gr)"/>
<circle cx="1254.80" cy="111.60" r="7.45" fill="url(#gr)"/>
<circle cx="1249.70" cy="88.90" r="7.45" fill="url(#gr)"/>
<circle cx="1244.70" cy="100.30" r="7.45" fill="url(#gr)"/>
<circle cx="1239.10" cy="100.30" r="7.45" fill="url(#gr)"/>
<circle cx="1234.60" cy="117.40" r="7.45" fill="url(#gr)"/>
<circle cx="1229.50" cy="126.00" r="7.45" fill="url(#gr)"/>
<circle cx="1224.50" cy="138.60" r="7.45" fill="url(#gr)"/>
<circle cx="1219.40" cy="151.50" r="7.45" fill="url(#gr)"/>
<circle cx="1214.40" cy="170.40" r="7.45" fill="url(#gr)"/>
<circle cx="1209.40" cy="188.00" r="7.45" fill="url(#gr)"/>
<circle cx="1204.30" cy="203.70" r="7.45" fill="url(#gr)"/>
<circle cx="1199.30" cy="225.90" r="7.45" fill="url(#gr)"/>
<circle cx="1194.20" cy="238.50" r="7.45" fill="url(#gr)"/>
<circle cx="1189.20" cy="255.40" r="7.45" fill="url(#gr)"/>
<circle cx="1184.10" cy="276.30" r="7.45" fill="url(#gr)"/>
<circle cx="1179.80" cy="288.90" r="7.45" fill="url(#gr)"/>
<circle cx="1174.80" cy="292.40" r="7.45" fill="url(#gr)"/>
<circle cx="1169.80" cy="300.00" r="7.45" fill="url(#gr)"/>
<circle cx="1164.70" cy="326.00" r="7.45" fill="url(#gr)"/>
<circle cx="1159.70" cy="336.10" r="7.45" fill="url(#gr)"/>
<circle cx="1155.10" cy="347.40" r="7.45" fill="url(#gr)"/>
<circle cx="1150.50" cy="364.00" r="7.45" fill="url(#gr)"/>
<circle cx="1145.90" cy="370.20" r="7.45" fill="url(#gr)"/>
<circle cx="1140.60" cy="377.40" r="7.45" fill="url(#gr)"/>
<circle cx="1136.10" cy="384.10" r="7.45" fill="url(#gr)"/>
<circle cx="1130.80" cy="396.60" r="7.45" fill="url(#gr)"/>
<circle cx="1126.00" cy="396.00" r="7.45" fill="url(#gr)"/>
<circle cx="1121.70" cy="395.20" r="7.45" fill="url(#gr)"/>
<circle cx="1116.70" cy="402.40" r="7.45" fill="url(#gr)"/>
<circle cx="1112.00" cy="408.00" r="7.45" fill="url(#gr)"/>
<circle cx="1107.30" cy="413.50" r="7.45" fill="url(#gr)"/>
<circle cx="1107.30" cy="424.50" r="7.45" fill="url(#gr)"/>
<circle cx="1100.00" cy="420.00" r="7.45" fill="url(#gr)"/>
<circle cx="1095.10" cy="413.50" r="7.45" fill="url(#gr)"/>
<circle cx="1089.60" cy="426.80" r="7.45" fill="url(#gr)"/>
<circle cx="1084.60" cy="415.70" r="7.45" fill="url(#gr)"/>
<circle cx="1076.00" cy="427.00" r="7.45" fill="url(#gr)"/>
<circle cx="1070.70" cy="424.00" r="7.45" fill="url(#gr)"/>
<circle cx="1067.40" cy="435.60" r="7.45" fill="url(#gr)"/>
<circle cx="1062.00" cy="444.30" r="7.45" fill="url(#gr)"/>
<circle cx="1056.50" cy="436.50" r="7.45" fill="url(#gr)"/>
<circle cx="1052.00" cy="433.00" r="7.45" fill="url(#gr)"/>
<circle cx="1047.60" cy="431.50" r="7.45" fill="url(#gr)"/>
<circle cx="1043.00" cy="430.00" r="7.45" fill="url(#gr)"/>
<circle cx="1039.10" cy="424.50" r="7.45" fill="url(#gr)"/>
<circle cx="1034.00" cy="430.00" r="7.45" fill="url(#gr)"/>
<circle cx="1028.80" cy="432.60" r="7.45" fill="url(#gr)"/>
<circle cx="1022.00" cy="433.00" r="7.45" fill="url(#gr)"/>
<circle cx="1015.50" cy="433.00" r="7.45" fill="url(#gr)"/>
<circle cx="1008.00" cy="431.00" r="7.45" fill="url(#gr)"/>
<circle cx="1001.10" cy="428.80" r="7.45" fill="url(#gr)"/>
<circle cx="997.20" cy="432.30" r="7.45" fill="url(#gr)"/>
<circle cx="991.70" cy="420.00" r="7.45" fill="url(#gr)"/>
<circle cx="991.10" cy="420.40" r="7.45" fill="url(#gr)"/>
<circle cx="983.00" cy="426.50" r="7.45" fill="url(#gr)"/>
<circle cx="977.50" cy="423.20" r="7.45" fill="url(#gr)"/>
<circle cx="969.70" cy="424.30" r="7.45" fill="url(#gr)"/>
<circle cx="965.10" cy="424.50" r="7.45" fill="url(#gr)"/>
<circle cx="960.10" cy="406.20" r="7.45" fill="url(#gr)"/>
<circle cx="955.30" cy="413.20" r="7.45" fill="url(#gr)"/>
<circle cx="952.90" cy="427.80" r="7.45" fill="url(#gr)"/>
<circle cx="949.80" cy="412.10" r="7.45" fill="url(#gr)"/>
<circle cx="944.20" cy="417.60" r="7.45" fill="url(#gr)"/>
<circle cx="939.80" cy="411.00" r="7.45" fill="url(#gr)"/>
<circle cx="935.70" cy="426.20" r="7.45" fill="url(#gr)"/>
<circle cx="929.00" cy="404.50" r="7.45" fill="url(#gr)"/>
<circle cx="924.00" cy="412.50" r="7.45" fill="url(#gr)"/>
<circle cx="919.00" cy="407.30" r="7.45" fill="url(#gr)"/>
<circle cx="912.10" cy="413.20" r="7.45" fill="url(#gr)"/>
<circle cx="907.00" cy="411.50" r="7.45" fill="url(#gr)"/>
<circle cx="902.40" cy="405.70" r="7.45" fill="url(#gr)"/>
<circle cx="896.50" cy="411.00" r="7.45" fill="url(#gr)"/>
<circle cx="889.90" cy="409.80" r="7.45" fill="url(#gr)"/>
<circle cx="884.00" cy="408.50" r="7.45" fill="url(#gr)"/>
<circle cx="879.70" cy="401.20" r="7.45" fill="url(#gr)"/>
<circle cx="869.70" cy="406.20" r="7.45" fill="url(#gr)"/>
<circle cx="865.80" cy="419.00" r="7.45" fill="url(#gr)"/>
<circle cx="860.00" cy="426.00" r="7.45" fill="url(#gr)"/>
<circle cx="854.20" cy="425.10" r="7.45" fill="url(#gr)"/>
<circle cx="675.68" cy="972.05" r="7.45" fill="url(#gk)"/>
<circle cx="669.99" cy="970.06" r="7.45" fill="url(#gk)"/>
<circle cx="664.33" cy="967.03" r="7.45" fill="url(#gk)"/>
<circle cx="658.68" cy="964.65" r="7.45" fill="url(#gk)"/>
<circle cx="653.06" cy="962.71" r="7.45" fill="url(#gk)"/>
<circle cx="647.45" cy="962.18" r="7.45" fill="url(#gk)"/>
<circle cx="641.86" cy="963.85" r="7.45" fill="url(#gk)"/>
<circle cx="636.29" cy="966.09" r="7.45" fill="url(#gk)"/>
<circle cx="630.74" cy="967.00" r="7.45" fill="url(#gk)"/>
<circle cx="625.21" cy="965.61" r="7.45" fill="url(#gk)"/>
<circle cx="619.70" cy="963.08" r="7.45" fill="url(#gk)"/>
<circle cx="614.20" cy="962.77" r="7.45" fill="url(#gk)"/>
<circle cx="608.73" cy="956.99" r="7.45" fill="url(#gk)"/>
<circle cx="603.27" cy="953.05" r="7.45" fill="url(#gk)"/>
<circle cx="597.83" cy="944.30" r="7.45" fill="url(#gk)"/>
<circle cx="592.40" cy="936.11" r="7.45" fill="url(#gk)"/>
<circle cx="587.00" cy="925.01" r="7.45" fill="url(#gk)"/>
<circle cx="581.61" cy="915.42" r="7.45" fill="url(#gk)"/>
<circle cx="576.24" cy="903.85" r="7.45" fill="url(#gk)"/>
<circle cx="570.89" cy="894.64" r="7.45" fill="url(#gk)"/>
<circle cx="565.56" cy="882.13" r="7.45" fill="url(#gk)"/>
<circle cx="560.24" cy="870.61" r="7.45" fill="url(#gk)"/>
<circle cx="554.94" cy="862.53" r="7.45" fill="url(#gk)"/>
<circle cx="549.66" cy="851.70" r="7.45" fill="url(#gk)"/>
<circle cx="544.39" cy="840.76" r="7.45" fill="url(#gk)"/>
<circle cx="539.14" cy="827.25" r="7.45" fill="url(#gk)"/>
<circle cx="533.91" cy="812.15" r="7.45" fill="url(#gk)"/>
<circle cx="528.70" cy="794.83" r="7.45" fill="url(#gk)"/>
<circle cx="523.50" cy="776.77" r="7.45" fill="url(#gk)"/>
<circle cx="518.32" cy="754.66" r="7.45" fill="url(#gk)"/>
<circle cx="513.16" cy="732.65" r="7.45" fill="url(#gk)"/>
<circle cx="508.01" cy="713.31" r="7.45" fill="url(#gk)"/>
<circle cx="502.88" cy="701.60" r="7.45" fill="url(#gk)"/>
<circle cx="497.77" cy="689.24" r="7.45" fill="url(#gk)"/>
<circle cx="492.67" cy="683.76" r="7.45" fill="url(#gk)"/>
<circle cx="487.59" cy="687.95" r="7.45" fill="url(#gk)"/>
<circle cx="482.52" cy="700.98" r="7.45" fill="url(#gk)"/>
<circle cx="477.48" cy="717.09" r="7.45" fill="url(#gk)"/>
<circle cx="472.44" cy="732.21" r="7.45" fill="url(#gk)"/>
<circle cx="467.43" cy="747.18" r="7.45" fill="url(#gk)"/>
<circle cx="462.43" cy="769.72" r="7.45" fill="url(#gk)"/>
<circle cx="457.44" cy="793.73" r="7.45" fill="url(#gk)"/>
<circle cx="452.47" cy="818.94" r="7.45" fill="url(#gk)"/>
<circle cx="447.52" cy="837.80" r="7.45" fill="url(#gk)"/>
<circle cx="442.58" cy="860.74" r="7.45" fill="url(#gk)"/>
<circle cx="437.66" cy="882.24" r="7.45" fill="url(#gk)"/>
<circle cx="432.75" cy="898.63" r="7.45" fill="url(#gk)"/>
<circle cx="427.86" cy="913.59" r="7.45" fill="url(#gk)"/>
<circle cx="422.99" cy="925.02" r="7.45" fill="url(#gk)"/>
<circle cx="418.12" cy="933.25" r="7.45" fill="url(#gk)"/>
<circle cx="413.28" cy="942.13" r="7.45" fill="url(#gk)"/>
<circle cx="408.45" cy="944.58" r="7.45" fill="url(#gk)"/>
<circle cx="403.63" cy="947.83" r="7.45" fill="url(#gk)"/>
<circle cx="398.83" cy="955.84" r="7.45" fill="url(#gk)"/>
<circle cx="394.05" cy="966.86" r="7.45" fill="url(#gk)"/>
<circle cx="389.28" cy="978.21" r="7.45" fill="url(#gk)"/>
<circle cx="384.52" cy="988.12" r="7.45" fill="url(#gk)"/>
<circle cx="379.78" cy="1000.78" r="7.45" fill="url(#gk)"/>
<circle cx="375.05" cy="1003.08" r="7.45" fill="url(#gk)"/>
<circle cx="370.34" cy="1006.21" r="7.45" fill="url(#gk)"/>
<circle cx="365.64" cy="1010.78" r="7.45" fill="url(#gk)"/>
<circle cx="360.96" cy="1014.00" r="7.45" fill="url(#gk)"/>
<circle cx="356.29" cy="1018.34" r="7.45" fill="url(#gk)"/>
<circle cx="351.64" cy="1022.51" r="7.45" fill="url(#gk)"/>
<circle cx="347.00" cy="1026.44" r="7.45" fill="url(#gk)"/>
<circle cx="342.37" cy="1030.14" r="7.45" fill="url(#gk)"/>
<circle cx="337.76" cy="1036.09" r="7.45" fill="url(#gk)"/>
<circle cx="333.16" cy="1042.84" r="7.45" fill="url(#gk)"/>
<circle cx="328.58" cy="1045.27" r="7.45" fill="url(#gk)"/>
<circle cx="324.01" cy="1043.69" r="7.45" fill="url(#gk)"/>
<circle cx="319.45" cy="1041.56" r="7.45" fill="url(#gk)"/>
<circle cx="314.91" cy="1041.30" r="7.45" fill="url(#gk)"/>
<circle cx="310.38" cy="1040.66" r="7.45" fill="url(#gk)"/>
<circle cx="305.87" cy="1040.27" r="7.45" fill="url(#gk)"/>
<circle cx="301.37" cy="1039.89" r="7.45" fill="url(#gk)"/>
<circle cx="296.88" cy="1039.59" r="7.45" fill="url(#gk)"/>
<circle cx="292.40" cy="1039.55" r="7.45" fill="url(#gk)"/>
<circle cx="287.94" cy="1039.71" r="7.45" fill="url(#gk)"/>
<circle cx="283.49" cy="1043.44" r="7.45" fill="url(#gk)"/>
<circle cx="279.06" cy="1046.56" r="7.45" fill="url(#gk)"/>
<circle cx="274.64" cy="1049.91" r="7.45" fill="url(#gk)"/>
<circle cx="270.23" cy="1052.43" r="7.45" fill="url(#gk)"/>
<circle cx="265.84" cy="1054.68" r="7.45" fill="url(#gk)"/>
<circle cx="261.46" cy="1056.17" r="7.45" fill="url(#gk)"/>
<circle cx="257.09" cy="1058.88" r="7.45" fill="url(#gk)"/>
<circle cx="252.73" cy="1060.34" r="7.45" fill="url(#gk)"/>
<circle cx="248.39" cy="1061.29" r="7.45" fill="url(#gk)"/>
<circle cx="244.06" cy="1062.48" r="7.45" fill="url(#gk)"/>
<circle cx="239.74" cy="1063.12" r="7.45" fill="url(#gk)"/>
<circle cx="235.44" cy="1063.70" r="7.45" fill="url(#gk)"/>
<circle cx="231.14" cy="1062.69" r="7.45" fill="url(#gk)"/>
<circle cx="226.87" cy="1062.54" r="7.45" fill="url(#gk)"/>
<circle cx="222.60" cy="1059.98" r="7.45" fill="url(#gk)"/>
<circle cx="218.34" cy="1057.09" r="7.45" fill="url(#gk)"/>
<circle cx="214.10" cy="1054.94" r="7.45" fill="url(#gk)"/>
<circle cx="209.87" cy="1054.09" r="7.45" fill="url(#gk)"/>
<circle cx="205.66" cy="1053.44" r="7.45" fill="url(#gk)"/>
<circle cx="201.45" cy="1053.35" r="7.45" fill="url(#gk)"/>
<circle cx="197.26" cy="1053.20" r="7.45" fill="url(#gk)"/>
<circle cx="193.08" cy="1054.40" r="7.45" fill="url(#gk)"/>
<circle cx="188.91" cy="1055.17" r="7.45" fill="url(#gk)"/>
<circle cx="184.75" cy="1055.81" r="7.45" fill="url(#gk)"/>
<circle cx="180.61" cy="1056.43" r="7.45" fill="url(#gk)"/>
<circle cx="176.48" cy="1057.16" r="7.45" fill="url(#gk)"/>
<circle cx="172.36" cy="1057.60" r="7.45" fill="url(#gk)"/>
<circle cx="168.25" cy="1058.23" r="7.45" fill="url(#gk)"/>
<circle cx="164.15" cy="1057.77" r="7.45" fill="url(#gk)"/>
<circle cx="160.07" cy="1058.45" r="7.45" fill="url(#gk)"/>
<circle cx="156.00" cy="1058.07" r="7.45" fill="url(#gk)"/>
<circle cx="151.93" cy="1057.91" r="7.45" fill="url(#gk)"/>
<circle cx="147.88" cy="1055.40" r="7.45" fill="url(#gk)"/>
<circle cx="143.85" cy="1054.93" r="7.45" fill="url(#gk)"/>
<circle cx="139.82" cy="1052.84" r="7.45" fill="url(#gk)"/>
<circle cx="135.80" cy="1049.16" r="7.45" fill="url(#gk)"/>
<circle cx="131.80" cy="1046.13" r="7.45" fill="url(#gk)"/>
<circle cx="127.81" cy="1042.49" r="7.45" fill="url(#gk)"/>
<circle cx="123.83" cy="1038.65" r="7.45" fill="url(#gk)"/>
<circle cx="119.86" cy="1034.59" r="7.45" fill="url(#gk)"/>
<circle cx="115.90" cy="1031.17" r="7.45" fill="url(#gk)"/>
<circle cx="111.95" cy="1027.99" r="7.45" fill="url(#gk)"/>
<circle cx="1417.30" cy="999.10" r="7.45" fill="url(#gk)"/>
<circle cx="1412.30" cy="964.20" r="7.45" fill="url(#gk)"/>
<circle cx="1407.00" cy="927.40" r="7.45" fill="url(#gk)"/>
<circle cx="1400.50" cy="924.80" r="7.45" fill="url(#gk)"/>
<circle cx="1394.70" cy="942.50" r="7.45" fill="url(#gk)"/>
<circle cx="1389.50" cy="933.40" r="7.45" fill="url(#gk)"/>
<circle cx="1383.50" cy="854.40" r="7.45" fill="url(#gk)"/>
<circle cx="1378.30" cy="843.40" r="7.45" fill="url(#gk)"/>
<circle cx="1372.50" cy="956.60" r="7.45" fill="url(#gk)"/>
<circle cx="1367.30" cy="935.80" r="7.45" fill="url(#gk)"/>
<circle cx="1361.30" cy="900.50" r="7.45" fill="url(#gk)"/>
<circle cx="1355.60" cy="905.20" r="7.45" fill="url(#gk)"/>
<circle cx="1350.40" cy="912.50" r="7.45" fill="url(#gk)"/>
<circle cx="1344.90" cy="879.20" r="7.45" fill="url(#gk)"/>
<circle cx="1339.70" cy="890.90" r="7.45" fill="url(#gk)"/>
<circle cx="1333.90" cy="898.70" r="7.45" fill="url(#gk)"/>
<circle cx="1329.20" cy="858.30" r="7.45" fill="url(#gk)"/>
<circle cx="1324.00" cy="825.70" r="7.45" fill="url(#gk)"/>
<circle cx="1318.30" cy="843.40" r="7.45" fill="url(#gk)"/>
<circle cx="1313.10" cy="761.00" r="7.45" fill="url(#gk)"/>
<circle cx="1307.30" cy="811.30" r="7.45" fill="url(#gk)"/>
<circle cx="1302.10" cy="750.00" r="7.45" fill="url(#gk)"/>
<circle cx="1296.60" cy="789.10" r="7.45" fill="url(#gk)"/>
<circle cx="1291.40" cy="798.30" r="7.45" fill="url(#gk)"/>
<circle cx="1286.20" cy="793.10" r="7.45" fill="url(#gk)"/>
<circle cx="1281.00" cy="770.10" r="7.45" fill="url(#gk)"/>
<circle cx="1276.00" cy="727.80" r="7.45" fill="url(#gk)"/>
<circle cx="1270.80" cy="767.00" r="7.45" fill="url(#gk)"/>
<circle cx="1265.60" cy="773.50" r="7.45" fill="url(#gk)"/>
<circle cx="1260.10" cy="742.20" r="7.45" fill="url(#gk)"/>
<circle cx="1254.90" cy="787.10" r="7.45" fill="url(#gk)"/>
<circle cx="1249.70" cy="751.30" r="7.45" fill="url(#gk)"/>
<circle cx="1244.70" cy="678.80" r="7.45" fill="url(#gk)"/>
<circle cx="1240.00" cy="773.50" r="7.45" fill="url(#gk)"/>
<circle cx="1234.30" cy="769.10" r="7.45" fill="url(#gk)"/>
<circle cx="1229.60" cy="757.80" r="7.45" fill="url(#gk)"/>
<circle cx="1224.40" cy="795.10" r="7.45" fill="url(#gk)"/>
<circle cx="1219.10" cy="764.40" r="7.45" fill="url(#gk)"/>
<circle cx="1214.40" cy="739.60" r="7.45" fill="url(#gk)"/>
<circle cx="1209.20" cy="867.90" r="7.45" fill="url(#gk)"/>
<circle cx="1204.30" cy="840.00" r="7.45" fill="url(#gk)"/>
<circle cx="1199.60" cy="858.30" r="7.45" fill="url(#gk)"/>
<circle cx="1194.90" cy="873.90" r="7.45" fill="url(#gk)"/>
<circle cx="1189.60" cy="883.10" r="7.45" fill="url(#gk)"/>
<circle cx="1184.90" cy="910.50" r="7.45" fill="url(#gk)"/>
<circle cx="1179.40" cy="905.00" r="7.45" fill="url(#gk)"/>
<circle cx="1173.90" cy="912.10" r="7.45" fill="url(#gk)"/>
<circle cx="1170.00" cy="934.80" r="7.45" fill="url(#gk)"/>
<circle cx="1164.50" cy="931.70" r="7.45" fill="url(#gk)"/>
<circle cx="1159.80" cy="953.90" r="7.45" fill="url(#gk)"/>
<circle cx="1155.10" cy="925.40" r="7.45" fill="url(#gk)"/>
<circle cx="1150.50" cy="988.80" r="7.45" fill="url(#gk)"/>
<circle cx="1145.80" cy="970.80" r="7.45" fill="url(#gk)"/>
<circle cx="1140.30" cy="989.60" r="7.45" fill="url(#gk)"/>
<circle cx="1136.40" cy="1004.50" r="7.45" fill="url(#gk)"/>
<circle cx="1130.90" cy="1009.20" r="7.45" fill="url(#gk)"/>
<circle cx="1126.20" cy="1024.00" r="7.45" fill="url(#gk)"/>
<circle cx="1121.50" cy="1013.10" r="7.45" fill="url(#gk)"/>
<circle cx="1116.00" cy="1013.10" r="7.45" fill="url(#gk)"/>
<circle cx="1112.10" cy="1031.10" r="7.45" fill="url(#gk)"/>
<circle cx="1107.40" cy="1027.90" r="7.45" fill="url(#gk)"/>
<circle cx="1101.90" cy="1032.60" r="7.45" fill="url(#gk)"/>
<circle cx="1098.80" cy="1041.30" r="7.45" fill="url(#gk)"/>
<circle cx="1094.70" cy="1040.00" r="7.45" fill="url(#gk)"/>
<circle cx="1089.40" cy="1041.30" r="7.45" fill="url(#gk)"/>
<circle cx="1083.10" cy="1042.80" r="7.45" fill="url(#gk)"/>
<circle cx="1081.20" cy="1043.20" r="7.45" fill="url(#gk)"/>
<circle cx="1074.90" cy="1049.40" r="7.45" fill="url(#gk)"/>
<circle cx="1069.70" cy="1042.10" r="7.45" fill="url(#gk)"/>
<circle cx="1064.50" cy="1054.60" r="7.45" fill="url(#gk)"/>
<circle cx="1060.40" cy="1067.10" r="7.45" fill="url(#gk)"/>
<circle cx="1052.10" cy="1055.60" r="7.45" fill="url(#gk)"/>
<circle cx="1046.90" cy="1049.40" r="7.45" fill="url(#gk)"/>
<circle cx="1038.50" cy="1057.70" r="7.45" fill="url(#gk)"/>
<circle cx="1034.40" cy="1061.90" r="7.45" fill="url(#gk)"/>
<circle cx="1030.20" cy="1056.70" r="7.45" fill="url(#gk)"/>
<circle cx="1025.00" cy="1061.90" r="7.45" fill="url(#gk)"/>
<circle cx="1020.90" cy="1054.60" r="7.45" fill="url(#gk)"/>
<circle cx="1014.60" cy="1060.80" r="7.45" fill="url(#gk)"/>
<circle cx="1008.40" cy="1061.90" r="7.45" fill="url(#gk)"/>
<circle cx="1002.20" cy="1057.70" r="7.45" fill="url(#gk)"/>
<circle cx="993.80" cy="1066.00" r="7.45" fill="url(#gk)"/>
<circle cx="987.60" cy="1058.80" r="7.45" fill="url(#gk)"/>
<circle cx="981.40" cy="1059.80" r="7.45" fill="url(#gk)"/>
<circle cx="975.10" cy="1062.90" r="7.45" fill="url(#gk)"/>
<circle cx="969.90" cy="1068.10" r="7.45" fill="url(#gk)"/>
<circle cx="964.70" cy="1066.00" r="7.45" fill="url(#gk)"/>
<circle cx="960.60" cy="1057.70" r="7.45" fill="url(#gk)"/>
<circle cx="955.40" cy="1059.80" r="7.45" fill="url(#gk)"/>
<circle cx="952.30" cy="1072.30" r="7.45" fill="url(#gk)"/>
<circle cx="948.10" cy="1062.90" r="7.45" fill="url(#gk)"/>
<circle cx="941.90" cy="1064.00" r="7.45" fill="url(#gk)"/>
<circle cx="939.80" cy="1054.60" r="7.45" fill="url(#gk)"/>
<circle cx="934.60" cy="1072.30" r="7.45" fill="url(#gk)"/>
<circle cx="932.50" cy="1056.70" r="7.45" fill="url(#gk)"/>
<circle cx="926.30" cy="1054.60" r="7.45" fill="url(#gk)"/>
<circle cx="922.10" cy="1061.90" r="7.45" fill="url(#gk)"/>
<circle cx="918.00" cy="1056.70" r="7.45" fill="url(#gk)"/>
<circle cx="912.80" cy="1062.90" r="7.45" fill="url(#gk)"/>
<circle cx="906.50" cy="1059.80" r="7.45" fill="url(#gk)"/>
<circle cx="900.30" cy="1058.80" r="7.45" fill="url(#gk)"/>
<circle cx="894.10" cy="1061.90" r="7.45" fill="url(#gk)"/>
<circle cx="889.90" cy="1056.70" r="7.45" fill="url(#gk)"/>
<circle cx="884.70" cy="1054.60" r="7.45" fill="url(#gk)"/>
<circle cx="879.50" cy="1054.60" r="7.45" fill="url(#gk)"/>
<circle cx="874.30" cy="1051.50" r="7.45" fill="url(#gk)"/>
<circle cx="869.10" cy="1051.50" r="7.45" fill="url(#gk)"/>
<circle cx="865.00" cy="1057.70" r="7.45" fill="url(#gk)"/>
<circle cx="860.80" cy="1061.90" r="7.45" fill="url(#gk)"/>
<circle cx="852.50" cy="1055.60" r="7.45" fill="url(#gk)"/>
</svg></body></html>
